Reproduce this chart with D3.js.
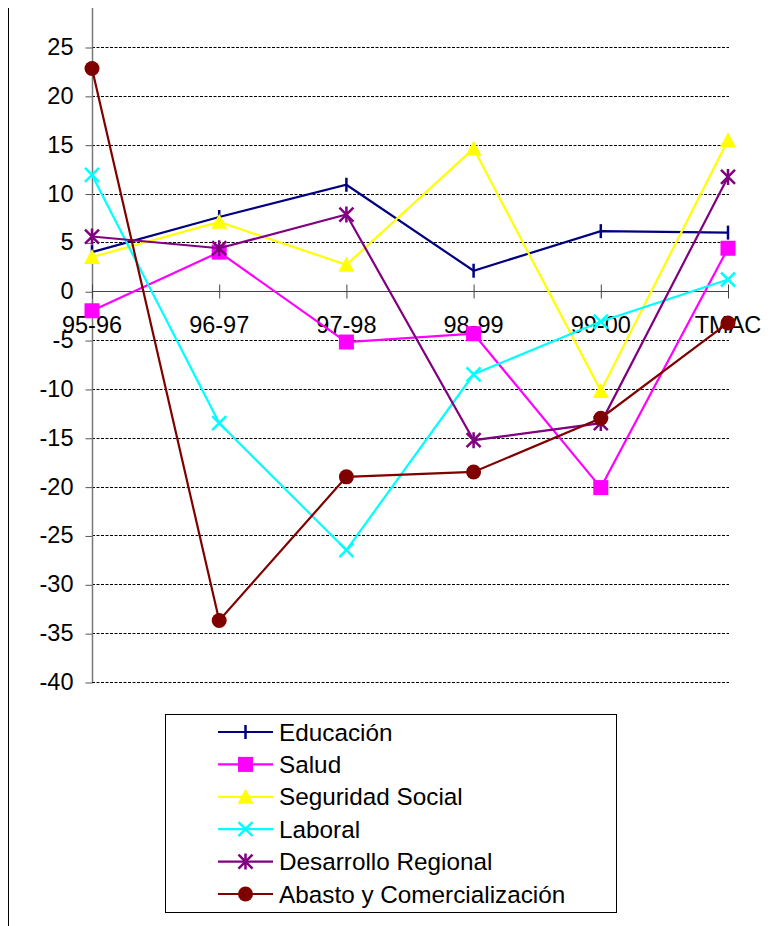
<!DOCTYPE html>
<html><head><meta charset="utf-8">
<script src="https://cdn.jsdelivr.net/npm/d3@7"></script>
<style>body{margin:0;background:#fff}svg{display:block;font-family:"Liberation Sans",Arial,sans-serif}</style>
</head><body><svg id="c" width="771" height="926"></svg>
<script>
const categories = ["95-96","96-97","97-98","98-99","99-00","TMAC"];
const yTicks = [25,20,15,10,5,0,-5,-10,-15,-20,-25,-30,-35,-40];
const educacion = [4.0,7.6,10.9,2.1,6.15,6.0];
const salud = [-2.0,4.0,-5.2,-4.35,-20.1,4.4];
const seguridad = [3.5,7.1,2.7,14.6,-10.2,15.45];
const laboral = [11.9,-13.5,-26.5,-8.5,-3.1,1.2];
const desarrollo = [5.6,4.4,7.85,-15.25,-13.5,11.7];
const abasto = [22.8,-33.7,-19.0,-18.5,-13.0,-3.25];
const seriesNames = ["Educación","Salud","Seguridad Social","Laboral","Desarrollo Regional","Abasto y Comercialización"];
const seriesColors = ["#000080","#FF00FF","#FFFF00","#00FFFF","#800080","#800000"];
const seriesMarkers = ["plus","square","triangle","x","star","circle"];
const seriesValues = [educacion,salud,seguridad,laboral,desarrollo,abasto];

const svg = d3.select("#c");
const x = d3.scalePoint().domain(categories).range([92,728]);
const y = d3.scaleLinear().domain([-40,25]).range([682,47]);

// outer left border
svg.append("line").attr("x1",8.5).attr("x2",8.5).attr("y1",8).attr("y2",926).attr("stroke","#000").attr("stroke-width",1);

// gridlines
svg.append("g").selectAll("line").data(yTicks).join("line")
  .attr("x1",92).attr("x2",729).attr("y1",d=>Math.round(y(d))+0.5).attr("y2",d=>Math.round(y(d))+0.5)
  .attr("stroke","#000").attr("stroke-width",1).attr("stroke-dasharray","3,1.5");

// y axis
const yAx = svg.append("g").attr("transform","translate(92.5,0)")
  .call(d3.axisLeft(y).tickValues(yTicks).tickSize(7).tickPadding(12).tickFormat(d=>String(d)));
yAx.select(".domain").remove();
yAx.selectAll(".tick line").attr("stroke","#555").attr("transform","translate(0,0.5)");
yAx.selectAll(".tick text").attr("font-size",23.5).attr("fill","#000").attr("font-family","Liberation Sans, Arial, sans-serif");
svg.append("line").attr("x1",92.5).attr("x2",92.5).attr("y1",8).attr("y2",682).attr("stroke","#777").attr("stroke-width",1.5);

// x axis at 0
const y0 = Math.round(y(0))+0.5;
svg.append("line").attr("x1",92).attr("x2",728).attr("y1",y0).attr("y2",y0).attr("stroke","#444").attr("stroke-width",1);
svg.append("g").selectAll("line").data(categories).join("line")
  .attr("x1",d=>x(d)+0.5).attr("x2",d=>x(d)+0.5).attr("y1",y0-7).attr("y2",y0+7).attr("stroke","#444");
svg.append("g").selectAll("text").data(categories).join("text")
  .attr("x",d=>x(d)).attr("y",333).attr("text-anchor","middle").attr("font-size",23.5).text(d=>d);

// marker drawing
function drawMarker(g, type, color, cx, cy){
  if(type==="plus"){
    g.append("line").attr("x1",cx).attr("x2",cx).attr("y1",cy-7).attr("y2",cy+7).attr("stroke",color).attr("stroke-width",2.5);
  } else if(type==="square"){
    g.append("rect").attr("x",cx-7.5).attr("y",cy-7.5).attr("width",15).attr("height",15).attr("fill",color);
  } else if(type==="triangle"){
    g.append("path").attr("d",`M${cx},${cy-8}L${cx+8},${cy+7}L${cx-8},${cy+7}Z`).attr("fill",color);
  } else if(type==="x"){
    g.append("path").attr("d",`M${cx-7},${cy-7}L${cx+7},${cy+7}M${cx-7},${cy+7}L${cx+7},${cy-7}`).attr("stroke",color).attr("stroke-width",2.5);
  } else if(type==="star"){
    g.append("path").attr("d",`M${cx-7},${cy-7}L${cx+7},${cy+7}M${cx-7},${cy+7}L${cx+7},${cy-7}M${cx},${cy-8}L${cx},${cy+8}`).attr("stroke",color).attr("stroke-width",2.5);
  } else if(type==="circle"){
    g.append("circle").attr("cx",cx).attr("cy",cy).attr("r",7.5).attr("fill",color);
  }
}

const line = d3.line().x((d,i)=>x(categories[i])).y(d=>y(d));
seriesValues.forEach((vals,si)=>{
  const g = svg.append("g");
  g.append("path").datum(vals).attr("d",line).attr("fill","none").attr("stroke",seriesColors[si]).attr("stroke-width",2.2);
  vals.forEach((v,i)=>drawMarker(g,seriesMarkers[si],seriesColors[si],x(categories[i]),y(v)));
});

// legend
svg.append("rect").attr("x",165.5).attr("y",714.5).attr("width",451).attr("height",198).attr("fill","#fff").attr("stroke","#000").attr("stroke-width",1);
seriesNames.forEach((n,i)=>{
  const ly = 732 + i*32.4;
  const g = svg.append("g");
  g.append("line").attr("x1",218).attr("x2",273).attr("y1",ly).attr("y2",ly).attr("stroke",seriesColors[i]).attr("stroke-width",2.2);
  drawMarker(g,seriesMarkers[i],seriesColors[i],245.5,ly);
  g.append("text").attr("x",279).attr("y",ly+8.5).attr("font-size",24.3).text(n);
});
</script></body></html>
